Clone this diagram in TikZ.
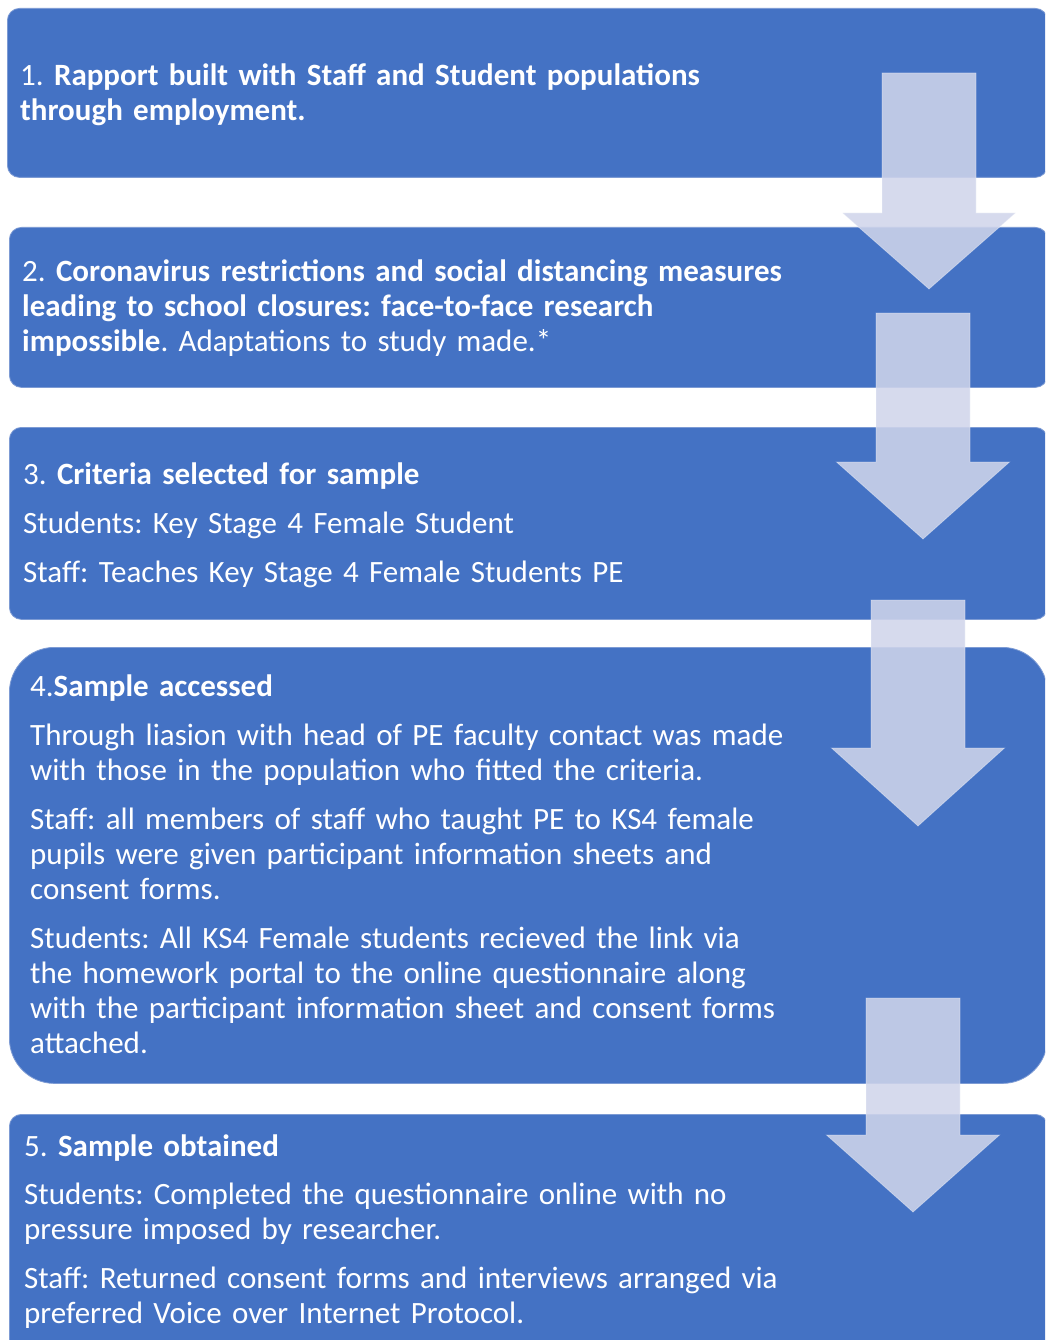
\documentclass[tikz,border=0pt]{standalone}
\usepackage{fontspec}
\setmainfont{Carlito}
\frenchspacing
\definecolor{stageblue}{RGB}{68,114,196}
\definecolor{stageedge}{RGB}{125,155,212}
\definecolor{arrowfill}{RGB}{208,213,235}

\tikzset{
  stage/.style={draw=stageedge, line width=0.8pt, fill=stageblue, rounded corners=12pt,
    anchor=north west, inner sep=0pt},
  stagetext/.style={text=white, anchor=base west, text width=860pt, align=left,
    inner sep=0pt, font=\fontsize{31}{35}\selectfont},
  flow/.style={fill=arrowfill, fill opacity=0.87, draw=white, draw opacity=0.35, line width=0.8pt}
}
% block arrow: centre x, top, neck, tip
\newcommand{\flowarrow}[4]{%
  \draw[flow] (#1-47,#2) -- (#1+47,#2) -- (#1+47,#3) -- (#1+86.5,#3) -- (#1,#4)
    -- (#1-86.5,#3) -- (#1-47,#3) -- cycle;}

\begin{document}
\begin{tikzpicture}[x=1pt, y=-1pt]
  \clip (0,0) rectangle (1045,1340);
  \fill[white] (0,0) rectangle (1045,1340);

  % stages
  \node[stage, minimum width=1040pt, minimum height=169pt] (box1) at (7,8) {};
  \node[stage, minimum width=1038pt, minimum height=160pt] (box2) at (9,227) {};
  \node[stage, minimum width=1038pt, minimum height=192pt] (box3) at (9,427) {};
  \node[stage, minimum width=1038pt, minimum height=436pt, rounded corners=45pt] (box4) at (9,647) {};
  \node[stage, minimum width=1038pt, minimum height=260pt] (box5) at (9,1114) {};

  \node[stagetext] (t1) at (20,86) {1. {\bfseries Rapport built with Staff and Student populations\\
    through employment.}};
  \node[stagetext] (t2) at (22,281) {2. {\bfseries Coronavirus restrictions and social distancing measures\\
    leading to school closures: face-to-face research\\
    impossible}. Adaptations to study made.*};
  \node[stagetext] (t3) at (23,484) {3. {\bfseries Criteria selected for sample}\\[14pt]
    Students: Key Stage 4 Female Student\\[14pt]
    Staff: Teaches Key Stage 4 Female Students PE};
  \node[stagetext] (t4) at (30,696) {4.{\bfseries Sample accessed}\\[14pt]
    Through liasion with head of PE faculty contact was made\\
    with those in the population who fitted the criteria.\\[14pt]
    Staff: all members of staff who taught PE to KS4 female\\
    pupils were given participant information sheets and\\
    consent forms.\\[14pt]
    Students: All KS4 Female students recieved the link via\\
    the homework portal to the online questionnaire along\\
    with the participant information sheet and consent forms\\
    attached.};
  \node[stagetext] (t5) at (24,1156) {5. {\bfseries Sample obtained}\\[13pt]
    Students: Completed the questionnaire online with no\\
    pressure imposed by researcher.\\[14pt]
    Staff: Returned consent forms and interviews arranged via\\
    preferred Voice over Internet Protocol.};

  % arrows
  \flowarrow{929}{73}{213}{289}
  \flowarrow{923}{313}{462}{539}
  \flowarrow{918}{600}{748}{826}
  \flowarrow{913}{998}{1135}{1212}
\end{tikzpicture}
\end{document}
